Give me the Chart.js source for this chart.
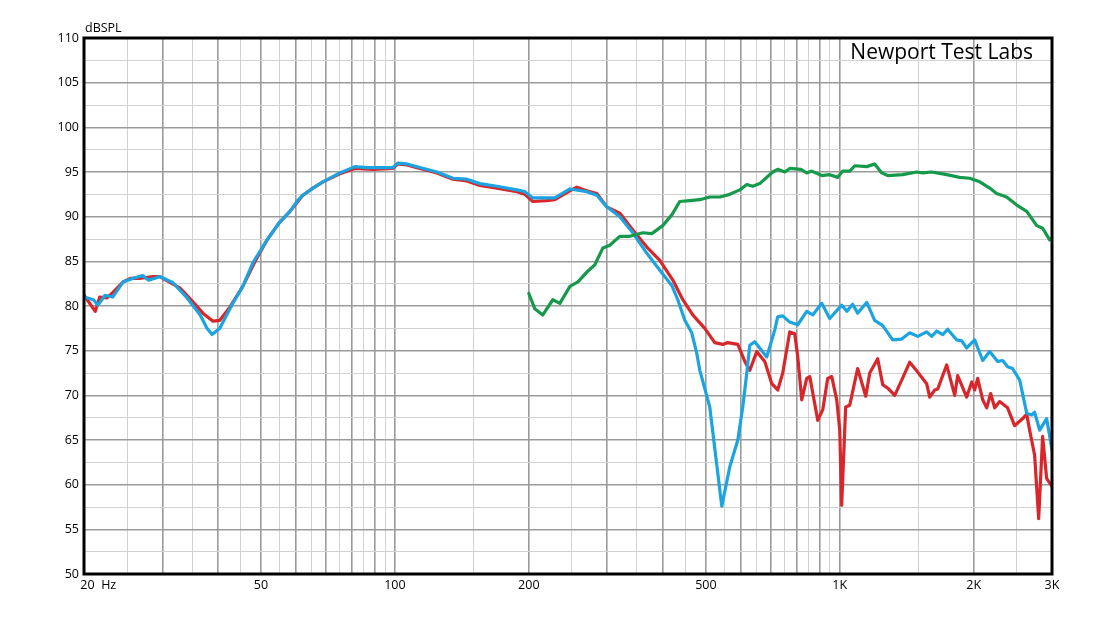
<!DOCTYPE html>
<html>
<head>
<meta charset="utf-8">
<script src="https://cdn.jsdelivr.net/npm/chart.js"></script>
<style>
  html, body { margin: 0; padding: 0; background: #fff; }
  canvas { display: block; }
</style>
</head>
<body>
<canvas id="fr" width="1110" height="625"></canvas>
<script>
// frequency response
const redFreq = [20, 21.2, 21.7, 22.5, 23.2, 24.5, 25.4, 26.7, 28.6, 29.6, 32.9, 35.1, 37.0, 39.0, 40.4, 42.6, 45.5, 48.5,
  51.6, 55.1, 58.1, 62.1, 65.4, 68.9, 75.2, 81.3, 89.2, 99.0, 101.5, 106.4, 113.8, 124.3, 135, 145.1, 155.2, 169.5,
  187.9, 195.9, 204.2, 219.6, 228.8, 247.4, 256.4, 270, 284.4, 299.4, 320.2, 342.6, 368.4, 394, 421.4, 443.8, 467.2,
  497.2, 523.6, 545.8, 560, 590, 611.6, 627.6, 650.8, 678.2, 703.4, 725.4, 744.4, 771.8, 792.2, 804.6, 821.4, 842.8,
  856.2, 892.4, 915.8, 939.6, 959.4, 984.4, 1000, 1010, 1031, 1053, 1097, 1144, 1168, 1217, 1249, 1282, 1329, 1378,
  1436, 1497, 1568, 1593, 1635, 1660, 1739, 1813, 1841, 1929, 1980, 2010, 2042, 2096, 2140, 2184, 2230, 2288, 2384,
  2472, 2578, 2632, 2672, 2742, 2800, 2858, 2918, 3000];
const redDb = [81.2, 79.4, 81.0, 80.9, 81.5, 82.7, 83.1, 83.1, 83.3, 83.3, 82.0, 80.5, 79.2, 78.3, 78.4, 79.9, 82.2, 85.0,
  87.4, 89.4, 90.6, 92.4, 93.2, 93.9, 94.8, 95.4, 95.3, 95.4, 95.9, 95.8, 95.4, 94.9, 94.2, 94.0, 93.5, 93.2,
  92.8, 92.5, 91.7, 91.8, 91.9, 92.9, 93.3, 92.9, 92.6, 91.1, 90.4, 88.5, 86.6, 85.1, 82.9, 80.7, 79.0,
  77.5, 75.9, 75.7, 75.9, 75.7, 73.8, 72.8, 74.9, 73.8, 71.3, 70.6, 72.5, 77.1, 76.9, 74.3, 69.5, 71.9,
  72.1, 67.2, 68.4, 71.9, 72.1, 69.5, 66.1, 57.7, 68.7, 68.9, 73.0, 69.9, 72.5, 74.1, 71.2, 70.8, 70.0, 71.7,
  73.7, 72.6, 71.3, 69.8, 70.6, 70.7, 73.4, 70.0, 72.2, 69.8, 71.5, 70.6, 71.9, 69.5, 68.6, 70.2, 68.6, 69.3, 68.6,
  66.6, 67.4, 67.9, 66.1, 63.3, 56.2, 65.4, 60.7, 59.8];

const blueFreq = [20, 21, 21.5, 22.3, 23.2, 24.5, 25.8, 27.1, 27.9, 28.9, 29.6, 31.7, 34.1, 36.5, 37.8, 38.8, 40.4, 43.2,
  45.5, 48.0, 51.6, 55.1, 58.1, 60.2, 62.1, 65.4, 68.9, 75.2, 81.3, 86.5, 99.0, 101.5, 106.4, 113.8, 124.3, 135, 145.1,
  155.2, 169.5, 187.9, 195.9, 204.2, 228.8, 247.4, 270, 284.4, 299.4, 320.2, 342.6, 368.4, 394, 419.2, 432.4, 448.4,
  464.8, 477, 484.6, 510.2, 543, 566, 590, 605.2, 618, 627.6, 644, 685.2, 714.2, 725.4, 744.4, 771.8, 804.6, 842.8,
  869.4, 910.8, 949.4, 1010, 1037, 1069, 1097, 1150, 1198, 1249, 1315, 1378, 1436, 1497, 1568, 1609, 1652, 1704, 1748,
  1832, 1880, 1929, 2010, 2096, 2173, 2264, 2324, 2384, 2446, 2538, 2632, 2700, 2742, 2814, 2918, 3000];
const blueDb = [81.0, 80.7, 80.1, 81.2, 81.0, 82.7, 83.1, 83.4, 82.9, 83.1, 83.3, 82.6, 80.9, 79.0, 77.5, 76.8, 77.5, 80.3,
  82.2, 84.9, 87.4, 89.4, 90.6, 91.7, 92.4, 93.2, 93.9, 94.9, 95.6, 95.5, 95.5, 96.0, 95.9, 95.5, 95.0, 94.3, 94.2,
  93.7, 93.4, 93.0, 92.8, 92.1, 92.1, 93.1, 92.8, 92.4, 91.1, 90.0, 88.2, 85.9, 84.0, 82.3, 80.7, 78.4,
  77.0, 74.7, 72.8, 68.7, 57.6, 62.0, 65.0, 68.7, 72.5, 75.6, 76.0, 74.3, 77.3, 78.8, 78.9, 78.2, 77.9, 79.4,
  79.0, 80.3, 78.6, 80.1, 79.4, 80.2, 79.2, 80.4, 78.4, 77.8, 76.2, 76.3, 77.0, 76.6, 77.1, 76.6, 77.2, 76.8, 77.4,
  76.2, 76.1, 75.3, 76.2, 73.9, 74.9, 73.8, 73.9, 73.2, 73.0, 71.7, 68.0, 67.8, 68.1, 66.1, 67.4, 63.9];

const greenFreq = [200, 206.2, 215, 226.4, 234.8, 247.4, 257.8, 270, 281.4, 293.4, 304.2, 320.2, 337.4, 360.8, 378, 400,
  419.2, 436.8, 460, 484.6, 510.2, 537.4, 566, 596.2, 618, 637.4, 660.8, 706.8, 725.4, 752.2, 771.8, 817.2, 842.8, 865,
  910.8, 949.4, 989.6, 1015, 1053, 1081, 1150, 1198, 1243, 1282, 1385, 1489, 1536, 1609, 1739, 1860, 1959, 2064, 2173,
  2252, 2372, 2500, 2632, 2772, 2858, 2964, 3000];
const greenDb = [81.4, 79.7, 79.0, 80.7, 80.3, 82.2, 82.7, 83.8, 84.6, 86.5, 86.8, 87.8, 87.8, 88.2, 88.1, 89.0,
  90.2, 91.7, 91.8, 91.9, 92.2, 92.2, 92.5, 93.0, 93.6, 93.4, 93.7, 95.0, 95.3, 95.0, 95.4, 95.3, 94.9, 95.1,
  94.6, 94.7, 94.4, 95.1, 95.1, 95.7, 95.6, 95.9, 94.9, 94.6, 94.7, 95.0, 94.9, 95.0, 94.7, 94.4, 94.3, 93.9, 93.2,
  92.6, 92.2, 91.3, 90.6, 89.0, 88.7, 87.4, 87.6];

// grid / tick setup
const darkFreqs = [20, 30, 40, 50, 60, 70, 80, 90, 100, 200, 300, 400, 500, 600, 700, 800, 900, 1000, 2000, 3000];
const lightFreqs = [25, 35, 45, 55, 65, 75, 85, 95, 150, 250, 350, 450, 550, 650, 750, 850, 950, 1500, 2500];
const xLabels = { 20: '\u2007\u2007\u2007\u200720  Hz', 50: '50', 100: '100', 200: '200', 500: '500', 1000: '1K', 2000: '2K', 3000: '3K' };
const yTicks = [];
for (let v = 50; v <= 110; v += 2.5) yTicks.push(v);

const toXY = (fs, ds) => fs.map((f, i) => ({ x: f, y: ds[i] }));
const dark = new Set(darkFreqs);

const frame = {
  id: 'frame',
  afterDatasetsDraw(chart) {
    const { ctx, chartArea: a } = chart;
    ctx.save();
    ctx.strokeStyle = '#000';
    ctx.lineWidth = 3;
    ctx.strokeRect(a.left, a.top, a.right - a.left, a.bottom - a.top);
    ctx.fillStyle = '#000';
    ctx.font = '12.5px "Open Sans"';
    ctx.textAlign = 'left';
    ctx.fillText('dBSPL', a.left + 1, 32);
    ctx.font = '21px "Open Sans"';
    ctx.textAlign = 'right';
    ctx.fillText('Newport Test Labs', a.right - 19, 59);
    ctx.restore();
  }
};

const chart = new Chart(document.getElementById('fr'), {
  type: 'line',
  data: {
    datasets: [
      { label: 'green', data: toXY(greenFreq, greenDb), borderColor: '#15994a' },
      { label: 'blue', data: toXY(blueFreq, blueDb), borderColor: '#1ba4df' },
      { label: 'red', data: toXY(redFreq, redDb), borderColor: '#d8262b' }
    ]
  },
  options: {
    responsive: false,
    animation: false,
    elements: {
      point: { radius: 0 },
      line: { borderWidth: 3.2, tension: 0, fill: false, borderJoinStyle: 'round', borderCapStyle: 'round' }
    },
    layout: { padding: { top: 38, right: 58, left: 0, bottom: 0 } },
    plugins: { legend: { display: false }, tooltip: { enabled: false } },
    scales: {
      x: {
        type: 'logarithmic',
        min: 20,
        max: 3000,
        afterBuildTicks: (s) => { s.ticks = darkFreqs.concat(lightFreqs).sort((a, b) => a - b).map(v => ({ value: v })); },
        afterFit: (s) => { s.height = 51; },
        border: { display: false },
        grid: {
          drawTicks: false,
          color: (c) => dark.has(c.tick.value) ? '#9b9b9b' : '#d2d2d2',
          lineWidth: (c) => dark.has(c.tick.value) ? 1.6 : 1
        },
        ticks: {
          autoSkip: false,
          maxRotation: 0,
          padding: 4,
          color: '#000',
          font: { family: 'Open Sans', size: 12.5 },
          callback: (v) => xLabels[v] || ''
        }
      },
      y: {
        min: 50,
        max: 110,
        afterBuildTicks: (s) => { s.ticks = yTicks.map(v => ({ value: v })); },
        afterFit: (s) => { s.width = 84; },
        border: { display: false },
        grid: {
          drawTicks: false,
          color: (c) => c.tick.value % 5 === 0 ? '#9b9b9b' : '#d2d2d2',
          lineWidth: (c) => c.tick.value % 5 === 0 ? 1.6 : 1
        },
        ticks: {
          padding: 5,
          color: '#000',
          font: { family: 'Open Sans', size: 12.5 },
          callback: (v) => v % 5 === 0 ? String(v) : ''
        }
      }
    }
  },
  plugins: [frame]
});
</script>
</body>
</html>
